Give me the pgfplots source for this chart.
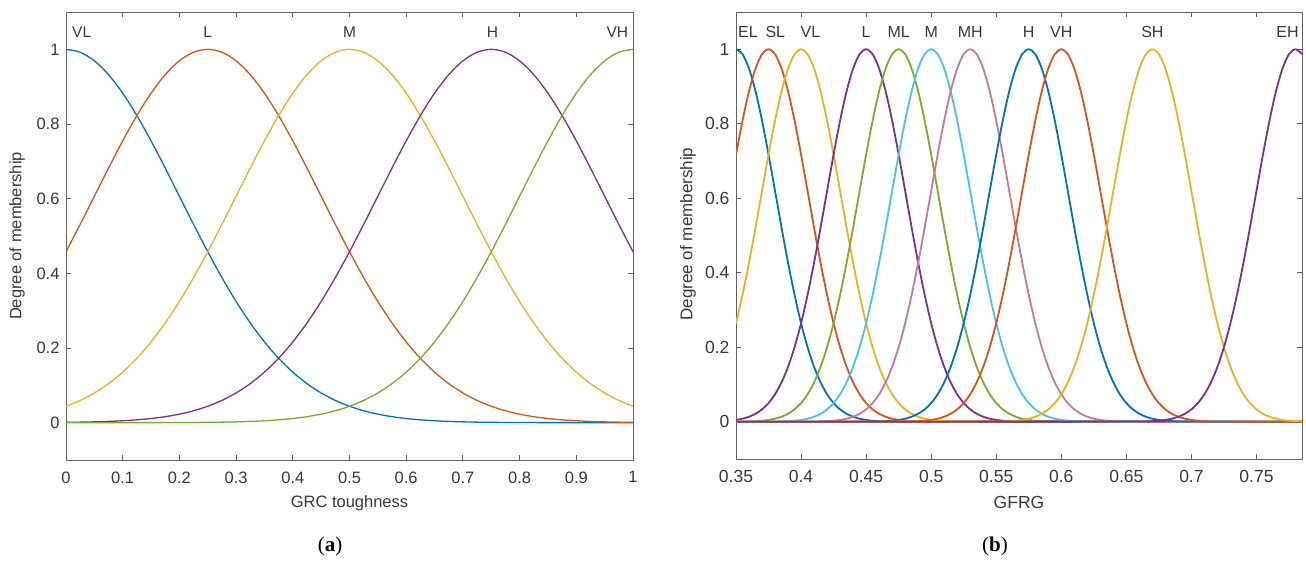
\documentclass[border=0pt]{standalone}
\usepackage{fontspec}
\setmainfont{Liberation Sans}
\newfontfamily\capfont{Liberation Serif}
\usepackage{pgfplots}
\usepackage{pgfplotstable}
\pgfplotsset{compat=1.18}
\definecolor{mBlue}{rgb}{0,0.447,0.741}
\definecolor{mOrange}{rgb}{0.85,0.325,0.098}
\definecolor{mYellow}{rgb}{0.929,0.694,0.125}
\definecolor{mPurple}{rgb}{0.494,0.184,0.556}
\definecolor{mGreen}{rgb}{0.466,0.674,0.188}
\definecolor{mCyan}{rgb}{0.301,0.745,0.933}
\definecolor{mMauve}{rgb}{0.78,0.47,0.58}
\definecolor{axgray}{rgb}{0.38,0.38,0.38}
\definecolor{txgray}{rgb}{0.22,0.22,0.22}

\pgfplotstableread{
x VL L M H VH
0 1 0.45783 0.04394 0.00088 0
0.025 0.99222 0.53109 0.05959 0.00140 0.00001
0.05 0.96923 0.60653 0.07956 0.00219 0.00001
0.075 0.93210 0.68194 0.10458 0.00336 0.00002
0.1 0.88250 0.75484 0.13534 0.00508 0.00004
0.125 0.82258 0.82258 0.17242 0.00758 0.00007
0.15 0.75484 0.88250 0.21627 0.01111 0.00012
0.175 0.68194 0.93210 0.26706 0.01604 0.00020
0.2 0.60653 0.96923 0.32465 0.02279 0.00034
0.225 0.53109 0.99222 0.38856 0.03190 0.00055
0.25 0.45783 1 0.45783 0.04394 0.00088
0.275 0.38856 0.99222 0.53109 0.05959 0.00140
0.3 0.32465 0.96923 0.60653 0.07956 0.00219
0.325 0.26706 0.93210 0.68194 0.10458 0.00336
0.35 0.21627 0.88250 0.75484 0.13534 0.00508
0.375 0.17242 0.82258 0.82258 0.17242 0.00758
0.4 0.13534 0.75484 0.88250 0.21627 0.01111
0.425 0.10458 0.68194 0.93210 0.26706 0.01604
0.45 0.07956 0.60653 0.96923 0.32465 0.02279
0.475 0.05959 0.53109 0.99222 0.38856 0.03190
0.5 0.04394 0.45783 1 0.45783 0.04394
0.525 0.03190 0.38856 0.99222 0.53109 0.05959
0.55 0.02279 0.32465 0.96923 0.60653 0.07956
0.575 0.01604 0.26706 0.93210 0.68194 0.10458
0.6 0.01111 0.21627 0.88250 0.75484 0.13534
0.625 0.00758 0.17242 0.82258 0.82258 0.17242
0.65 0.00508 0.13534 0.75484 0.88250 0.21627
0.675 0.00336 0.10458 0.68194 0.93210 0.26706
0.7 0.00219 0.07956 0.60653 0.96923 0.32465
0.725 0.00140 0.05959 0.53109 0.99222 0.38856
0.75 0.00088 0.04394 0.45783 1 0.45783
0.775 0.00055 0.03190 0.38856 0.99222 0.53109
0.8 0.00034 0.02279 0.32465 0.96923 0.60653
0.825 0.00020 0.01604 0.26706 0.93210 0.68194
0.85 0.00012 0.01111 0.21627 0.88250 0.75484
0.875 0.00007 0.00758 0.17242 0.82258 0.82258
0.9 0.00004 0.00508 0.13534 0.75484 0.88250
0.925 0.00002 0.00336 0.10458 0.68194 0.93210
0.95 0.00001 0.00219 0.07956 0.60653 0.96923
0.975 0.00001 0.00140 0.05959 0.53109 0.99222
1 0 0.00088 0.04394 0.45783 1
}\tabA

\begin{document}
\begin{tikzpicture}
\path[use as bounding box] (0,0) rectangle (1306pt,560pt);
\pgfplotsset{
  mfstyle/.style={
    scale only axis,
    anchor=south west,
    ymin=-0.1, ymax=1.1,
    ytick={0,0.2,0.4,0.6,0.8,1},
    tick align=inside,
    major tick length=5pt,
    axis line style={axgray, line width=0.9pt},
    every tick/.style={axgray, line width=0.9pt},
    /pgf/number format/assume math mode=true,
    xticklabel style={text=txgray, yshift=-8pt},
    yticklabel style={text=txgray, xshift=-3pt},
    scaled ticks=false,
    clip=true,
  }
}
\begin{axis}[mfstyle,
  at={(66pt,100pt)}, width=567pt, height=448pt,
  xmin=0, xmax=1,
  xtick={0,0.1,0.2,0.3,0.4,0.5,0.6,0.7,0.8,0.9,1},
  ticklabel style={font=\fontsize{16.5}{19}\selectfont},
]
\addplot[mBlue, line width=1.3pt, smooth] table[x=x,y=VL]{\tabA};
\addplot[mOrange, line width=1.3pt, smooth] table[x=x,y=L]{\tabA};
\addplot[mYellow, line width=1.3pt, smooth] table[x=x,y=M]{\tabA};
\addplot[mPurple, line width=1.3pt, smooth] table[x=x,y=H]{\tabA};
\addplot[mGreen, line width=1.3pt, smooth] table[x=x,y=VH]{\tabA};
\begin{scope}[every node/.style={font=\fontsize{15.5}{18}\selectfont, text=txgray, inner sep=0pt}]
\node[anchor=west] at (axis cs:0.0106,1.045) {VL};
\node at (axis cs:0.25,1.045) {L};
\node at (axis cs:0.5,1.045) {M};
\node at (axis cs:0.752,1.045) {H};
\node[anchor=east] at (axis cs:0.9917,1.045) {VH};
\end{scope}
\end{axis}

\begin{axis}[mfstyle,
  at={(736pt,101pt)}, width=566pt, height=447pt,
  xmin=0.35, xmax=0.785,
  xtick={0.35,0.4,0.45,0.5,0.55,0.6,0.65,0.7,0.75},
  ticklabel style={font=\fontsize{17.5}{20}\selectfont},
]
% EL
\addplot[mBlue, line width=1.8pt, smooth] coordinates {(0.350,1)(0.355,0.9868)(0.360,0.9482)(0.365,0.8872)(0.370,0.8084)(0.375,0.7172)(0.380,0.6196)(0.385,0.5212)(0.390,0.4270)(0.395,0.3406)(0.400,0.2645)(0.405,0.2001)(0.410,0.1474)(0.415,0.1057)(0.420,0.0738)(0.425,0.0502)(0.430,0.0332)(0.435,0.0214)(0.440,0.0135)(0.445,0.0082)(0.450,0.0049)(0.455,0.0028)(0.460,0.0016)(0.465,0.0009)(0.470,0.0005)(0.785,0)};
% SL
\addplot[mOrange, line width=1.8pt, smooth] coordinates {(0.350,0.7172)(0.355,0.8084)(0.360,0.8872)(0.365,0.9482)(0.370,0.9868)(0.375,1)(0.380,0.9868)(0.385,0.9482)(0.390,0.8872)(0.395,0.8084)(0.400,0.7172)(0.405,0.6196)(0.410,0.5212)(0.415,0.4270)(0.420,0.3406)(0.425,0.2645)(0.430,0.2001)(0.435,0.1474)(0.440,0.1057)(0.445,0.0738)(0.450,0.0502)(0.455,0.0332)(0.460,0.0214)(0.465,0.0135)(0.470,0.0082)(0.475,0.0049)(0.480,0.0028)(0.485,0.0016)(0.490,0.0009)(0.495,0.0005)(0.785,0)};
% VL
\addplot[mYellow, line width=1.8pt, smooth] coordinates {(0.350,0.2645)(0.355,0.3406)(0.360,0.4270)(0.365,0.5212)(0.370,0.6196)(0.375,0.7172)(0.380,0.8084)(0.385,0.8872)(0.390,0.9482)(0.395,0.9868)(0.400,1)(0.405,0.9868)(0.410,0.9482)(0.415,0.8872)(0.420,0.8084)(0.425,0.7172)(0.430,0.6196)(0.435,0.5212)(0.440,0.4270)(0.445,0.3406)(0.450,0.2645)(0.455,0.2001)(0.460,0.1474)(0.465,0.1057)(0.470,0.0738)(0.475,0.0502)(0.480,0.0332)(0.485,0.0214)(0.490,0.0135)(0.495,0.0082)(0.500,0.0049)(0.505,0.0028)(0.510,0.0016)(0.515,0.0009)(0.520,0.0005)(0.785,0)};
% L
\addplot[mPurple, line width=1.8pt, smooth] coordinates {(0.350,0.0049)(0.355,0.0082)(0.360,0.0135)(0.365,0.0214)(0.370,0.0332)(0.375,0.0502)(0.380,0.0738)(0.385,0.1057)(0.390,0.1474)(0.395,0.2001)(0.400,0.2645)(0.405,0.3406)(0.410,0.4270)(0.415,0.5212)(0.420,0.6196)(0.425,0.7172)(0.430,0.8084)(0.435,0.8872)(0.440,0.9482)(0.445,0.9868)(0.450,1)(0.455,0.9868)(0.460,0.9482)(0.465,0.8872)(0.470,0.8084)(0.475,0.7172)(0.480,0.6196)(0.485,0.5212)(0.490,0.4270)(0.495,0.3406)(0.500,0.2645)(0.505,0.2001)(0.510,0.1474)(0.515,0.1057)(0.520,0.0738)(0.525,0.0502)(0.530,0.0332)(0.535,0.0214)(0.540,0.0135)(0.545,0.0082)(0.550,0.0049)(0.555,0.0028)(0.560,0.0016)(0.565,0.0009)(0.570,0.0005)(0.785,0)};
% ML
\addplot[mGreen, line width=1.8pt, smooth] coordinates {(0.350,0)(0.355,0.0005)(0.360,0.0009)(0.365,0.0016)(0.370,0.0028)(0.375,0.0049)(0.380,0.0082)(0.385,0.0135)(0.390,0.0214)(0.395,0.0332)(0.400,0.0502)(0.405,0.0738)(0.410,0.1057)(0.415,0.1474)(0.420,0.2001)(0.425,0.2645)(0.430,0.3406)(0.435,0.4270)(0.440,0.5212)(0.445,0.6196)(0.450,0.7172)(0.455,0.8084)(0.460,0.8872)(0.465,0.9482)(0.470,0.9868)(0.475,1)(0.480,0.9868)(0.485,0.9482)(0.490,0.8872)(0.495,0.8084)(0.500,0.7172)(0.505,0.6196)(0.510,0.5212)(0.515,0.4270)(0.520,0.3406)(0.525,0.2645)(0.530,0.2001)(0.535,0.1474)(0.540,0.1057)(0.545,0.0738)(0.550,0.0502)(0.555,0.0332)(0.560,0.0214)(0.565,0.0135)(0.570,0.0082)(0.575,0.0049)(0.580,0.0028)(0.585,0.0016)(0.590,0.0009)(0.595,0.0005)(0.785,0)};
% M
\addplot[mCyan, line width=1.8pt, smooth] coordinates {(0.350,0)(0.380,0.0005)(0.385,0.0009)(0.390,0.0016)(0.395,0.0028)(0.400,0.0049)(0.405,0.0082)(0.410,0.0135)(0.415,0.0214)(0.420,0.0332)(0.425,0.0502)(0.430,0.0738)(0.435,0.1057)(0.440,0.1474)(0.445,0.2001)(0.450,0.2645)(0.455,0.3406)(0.460,0.4270)(0.465,0.5212)(0.470,0.6196)(0.475,0.7172)(0.480,0.8084)(0.485,0.8872)(0.490,0.9482)(0.495,0.9868)(0.500,1)(0.505,0.9868)(0.510,0.9482)(0.515,0.8872)(0.520,0.8084)(0.525,0.7172)(0.530,0.6196)(0.535,0.5212)(0.540,0.4270)(0.545,0.3406)(0.550,0.2645)(0.555,0.2001)(0.560,0.1474)(0.565,0.1057)(0.570,0.0738)(0.575,0.0502)(0.580,0.0332)(0.585,0.0214)(0.590,0.0135)(0.595,0.0082)(0.600,0.0049)(0.605,0.0028)(0.610,0.0016)(0.615,0.0009)(0.620,0.0005)(0.785,0)};
% MH
\addplot[mMauve, line width=1.8pt, smooth] coordinates {(0.350,0)(0.410,0.0005)(0.415,0.0009)(0.420,0.0016)(0.425,0.0028)(0.430,0.0049)(0.435,0.0082)(0.440,0.0135)(0.445,0.0214)(0.450,0.0332)(0.455,0.0502)(0.460,0.0738)(0.465,0.1057)(0.470,0.1474)(0.475,0.2001)(0.480,0.2645)(0.485,0.3406)(0.490,0.4270)(0.495,0.5212)(0.500,0.6196)(0.505,0.7172)(0.510,0.8084)(0.515,0.8872)(0.520,0.9482)(0.525,0.9868)(0.530,1)(0.535,0.9868)(0.540,0.9482)(0.545,0.8872)(0.550,0.8084)(0.555,0.7172)(0.560,0.6196)(0.565,0.5212)(0.570,0.4270)(0.575,0.3406)(0.580,0.2645)(0.585,0.2001)(0.590,0.1474)(0.595,0.1057)(0.600,0.0738)(0.605,0.0502)(0.610,0.0332)(0.615,0.0214)(0.620,0.0135)(0.625,0.0082)(0.630,0.0049)(0.635,0.0028)(0.640,0.0016)(0.645,0.0009)(0.650,0.0005)(0.785,0)};
% H
\addplot[mBlue, line width=1.8pt, smooth] coordinates {(0.350,0)(0.455,0.0005)(0.460,0.0009)(0.465,0.0016)(0.470,0.0028)(0.475,0.0049)(0.480,0.0082)(0.485,0.0135)(0.490,0.0214)(0.495,0.0332)(0.500,0.0502)(0.505,0.0738)(0.510,0.1057)(0.515,0.1474)(0.520,0.2001)(0.525,0.2645)(0.530,0.3406)(0.535,0.4270)(0.540,0.5212)(0.545,0.6196)(0.550,0.7172)(0.555,0.8084)(0.560,0.8872)(0.565,0.9482)(0.570,0.9868)(0.575,1)(0.580,0.9868)(0.585,0.9482)(0.590,0.8872)(0.595,0.8084)(0.600,0.7172)(0.605,0.6196)(0.610,0.5212)(0.615,0.4270)(0.620,0.3406)(0.625,0.2645)(0.630,0.2001)(0.635,0.1474)(0.640,0.1057)(0.645,0.0738)(0.650,0.0502)(0.655,0.0332)(0.660,0.0214)(0.665,0.0135)(0.670,0.0082)(0.675,0.0049)(0.680,0.0028)(0.685,0.0016)(0.690,0.0009)(0.695,0.0005)(0.785,0)};
% VH
\addplot[mOrange, line width=1.8pt, smooth] coordinates {(0.350,0)(0.480,0.0005)(0.485,0.0009)(0.490,0.0016)(0.495,0.0028)(0.500,0.0049)(0.505,0.0082)(0.510,0.0135)(0.515,0.0214)(0.520,0.0332)(0.525,0.0502)(0.530,0.0738)(0.535,0.1057)(0.540,0.1474)(0.545,0.2001)(0.550,0.2645)(0.555,0.3406)(0.560,0.4270)(0.565,0.5212)(0.570,0.6196)(0.575,0.7172)(0.580,0.8084)(0.585,0.8872)(0.590,0.9482)(0.595,0.9868)(0.600,1)(0.605,0.9868)(0.610,0.9482)(0.615,0.8872)(0.620,0.8084)(0.625,0.7172)(0.630,0.6196)(0.635,0.5212)(0.640,0.4270)(0.645,0.3406)(0.650,0.2645)(0.655,0.2001)(0.660,0.1474)(0.665,0.1057)(0.670,0.0738)(0.675,0.0502)(0.680,0.0332)(0.685,0.0214)(0.690,0.0135)(0.695,0.0082)(0.700,0.0049)(0.705,0.0028)(0.710,0.0016)(0.715,0.0009)(0.720,0.0005)(0.785,0)};
% SH
\addplot[mYellow, line width=1.8pt, smooth] coordinates {(0.350,0)(0.550,0.0005)(0.555,0.0009)(0.560,0.0016)(0.565,0.0028)(0.570,0.0049)(0.575,0.0082)(0.580,0.0135)(0.585,0.0214)(0.590,0.0332)(0.595,0.0502)(0.600,0.0738)(0.605,0.1057)(0.610,0.1474)(0.615,0.2001)(0.620,0.2645)(0.625,0.3406)(0.630,0.4270)(0.635,0.5212)(0.640,0.6196)(0.645,0.7172)(0.650,0.8084)(0.655,0.8872)(0.660,0.9482)(0.665,0.9868)(0.670,1)(0.675,0.9868)(0.680,0.9482)(0.685,0.8872)(0.690,0.8084)(0.695,0.7172)(0.700,0.6196)(0.705,0.5212)(0.710,0.4270)(0.715,0.3406)(0.720,0.2645)(0.725,0.2001)(0.730,0.1474)(0.735,0.1057)(0.740,0.0738)(0.745,0.0502)(0.750,0.0332)(0.755,0.0214)(0.760,0.0135)(0.765,0.0082)(0.770,0.0049)(0.775,0.0028)(0.780,0.0016)(0.785,0.0009)};
% EH
\addplot[mPurple, line width=1.8pt, smooth] coordinates {(0.350,0)(0.660,0.0005)(0.665,0.0009)(0.670,0.0016)(0.675,0.0028)(0.680,0.0049)(0.685,0.0082)(0.690,0.0135)(0.695,0.0214)(0.700,0.0332)(0.705,0.0502)(0.710,0.0738)(0.715,0.1057)(0.720,0.1474)(0.725,0.2001)(0.730,0.2645)(0.735,0.3406)(0.740,0.4270)(0.745,0.5212)(0.750,0.6196)(0.755,0.7172)(0.760,0.8084)(0.765,0.8872)(0.770,0.9482)(0.775,0.9868)(0.780,1)(0.785,0.9868)};
\begin{scope}[every node/.style={font=\fontsize{16}{19}\selectfont, text=txgray, inner sep=0pt}]
\node[anchor=west] at (axis cs:0.3515,1.047) {EL};
\node at (axis cs:0.3802,1.047) {SL};
\node at (axis cs:0.4072,1.047) {VL};
\node at (axis cs:0.45,1.047) {L};
\node at (axis cs:0.475,1.047) {ML};
\node at (axis cs:0.5,1.047) {M};
\node at (axis cs:0.53,1.047) {MH};
\node at (axis cs:0.575,1.047) {H};
\node at (axis cs:0.6,1.047) {VH};
\node at (axis cs:0.67,1.047) {SH};
\node[anchor=east] at (axis cs:0.7825,1.047) {EH};
\end{scope}
\end{axis}

\node[text=txgray, font=\fontsize{16.5}{19}\selectfont] at (349.5pt,56.7pt) {GRC toughness};
\node[text=txgray, font=\fontsize{17.5}{20}\selectfont] at (1019pt,58pt) {GFRG};
\node[text=txgray, rotate=90, font=\fontsize{16.5}{19}\selectfont] at (17pt,324pt) {Degree of membership};
\node[text=txgray, rotate=90, font=\fontsize{17}{20}\selectfont] at (688pt,326pt) {Degree of membership};
\node[font=\capfont\fontsize{21}{24}\selectfont] at (330pt,13.3pt) {(\textbf{a})};
\node[font=\capfont\fontsize{21}{24}\selectfont] at (995pt,13.3pt) {(\textbf{b})};
\end{tikzpicture}
\end{document}
